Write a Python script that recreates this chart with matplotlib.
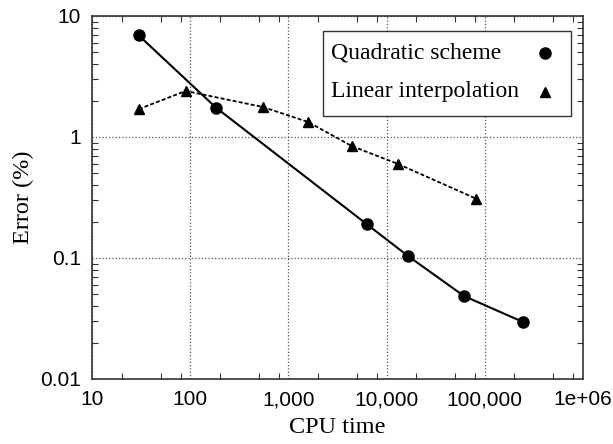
import matplotlib
matplotlib.use("Agg")
import matplotlib.pyplot as plt
from matplotlib.patches import Rectangle
from matplotlib.ticker import LogLocator, NullFormatter

# CPU time vs. error for the two schemes
quad_time = [30, 183, 6300, 16500, 61400, 245000]
quad_err = [6.9, 1.75, 0.19, 0.104, 0.0485, 0.0296]

lin_time = [30, 90, 550, 1590, 4450, 13000, 81000]
lin_err = [1.70, 2.40, 1.77, 1.33, 0.84, 0.60, 0.31]

x_ticks = [10, 100, 1000, 10000, 100000, 1000000]
x_labels = ["10", "100", "1,000", "10,000", "100,000", "1e+06"]
y_ticks = [0.01, 0.1, 1, 10]
y_labels = ["0.01", "0.1", "1", "10"]

series_names = ["Quadratic scheme", "Linear interpolation"]

serif = "Liberation Serif"
sans = "Liberation Sans"

fig = plt.figure(figsize=(6.13, 4.44), dpi=100)
ax = fig.add_axes([0.150, 0.1464, 0.801, 0.8176])

ax.plot(quad_time, quad_err, color="black", lw=1.5, marker="o", ms=8)
ax.plot(lin_time, lin_err, color="black", lw=1.3, ls=(0, (2.2, 1.2)),
        marker="^", ms=7.5)

ax.set_xscale("log")
ax.set_yscale("log")
ax.set_xlim(10, 1e6)
ax.set_ylim(0.01, 10)

ax.set_xticks(x_ticks)
ax.set_xticklabels(x_labels, fontfamily=sans, fontsize=15)
ax.set_yticks(y_ticks)
ax.set_yticklabels(y_labels, fontfamily=sans, fontsize=15)
ax.xaxis.set_minor_locator(LogLocator(base=10, subs=(2, 5, 8)))
ax.yaxis.set_minor_locator(LogLocator(base=10, subs=range(2, 10)))
ax.xaxis.set_minor_formatter(NullFormatter())
ax.yaxis.set_minor_formatter(NullFormatter())

ax.tick_params(which="both", direction="in", top=True, right=True,
               color="#333333")
ax.tick_params(which="major", length=0, pad=8)
ax.tick_params(which="minor", length=4, width=0.8)

ax.grid(True, which="major", ls=":", lw=0.9, color="#555555")

for s in ax.spines.values():
    s.set_color("#333333")
    s.set_linewidth(1.2)

ax.set_xlabel("CPU time", fontfamily=serif, fontsize=17.5, labelpad=6)
ax.set_ylabel("Error (%)", fontfamily=serif, fontsize=17.5, labelpad=4)

# legend box: text on the left, marker on the right
ax.add_patch(Rectangle((0.4705, 0.7245), 0.5051, 0.2342,
                       transform=ax.transAxes, facecolor="white",
                       edgecolor="#333333", lw=1.0, zorder=5))
for name, mk, ms, ty in zip(series_names, ["o", "^"], [8, 7.5], [0.898, 0.7906]):
    ax.text(0.4868, ty, name, transform=ax.transAxes, ha="left", va="center",
            fontfamily=serif, fontsize=17, zorder=6)
    ax.plot([0.9226], [ty], transform=ax.transAxes, ls="none", marker=mk,
            ms=ms, color="black", zorder=6, clip_on=False)

fig.savefig("out.png", dpi=100)
